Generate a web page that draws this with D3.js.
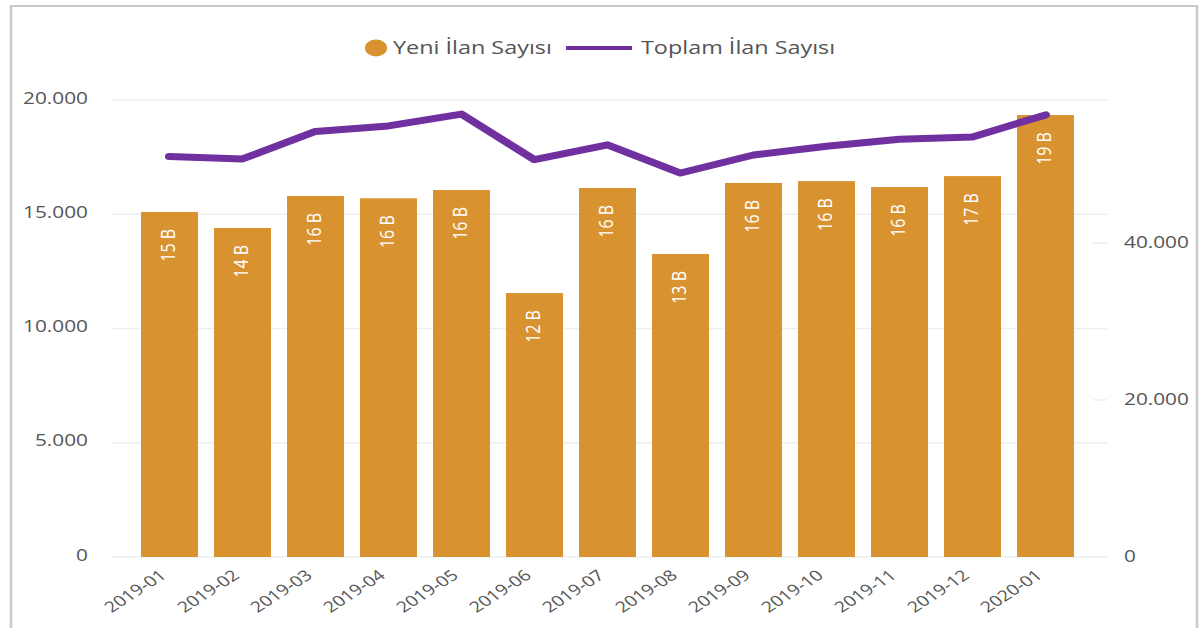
<!DOCTYPE html>
<html>
<head>
<meta charset="utf-8">
<script src="https://cdn.jsdelivr.net/npm/d3@7"></script>
<style>
  body { margin: 0; background: #fff; }
  svg { display: block; }
  text { font-family: "Open Sans", "Noto Sans", sans-serif; }
</style>
</head>
<body>
<svg id="chart"></svg>
<script>
// data
const months = ["2019-01", "2019-02", "2019-03", "2019-04", "2019-05", "2019-06", "2019-07",
  "2019-08", "2019-09", "2019-10", "2019-11", "2019-12", "2020-01"];
const newListings = [15100, 14400, 15800, 15700, 16060, 11550, 16150, 13260, 16370, 16450, 16190, 16670, 19340];
const totalListings = [51000, 50700, 54200, 54900, 56400, 50600, 52500, 48900, 51200, 52300, 53200, 53500, 56300];
const leftTicks = [0, 5000, 10000, 15000, 20000];
const rightTicks = [0, 20000, 40000];
const seriesNames = ["Yeni İlan Sayısı", "Toplam İlan Sayısı"];

const width = 1199, height = 628;
// the picture is a bit wider than tall, so draw in a narrower box and stretch
const SX = 1.3;
const sx = v => v / SX;

const barColor = "#d8922f";
const lineColor = "#7030a0";

const svg = d3.select("#chart")
  .attr("width", width)
  .attr("height", height)
  .attr("viewBox", `0 0 ${width / SX} ${height}`)
  .attr("preserveAspectRatio", "none");

const tr = d3.formatLocale({ decimal: ",", thousands: ".", grouping: [3], currency: ["", ""] });
const fmt = tr.format(",");

// frame
svg.append("rect")
  .attr("x", sx(11)).attr("y", 6)
  .attr("width", sx(1197 - 11)).attr("height", 660)
  .attr("fill", "none").attr("stroke", "#c9c9c9").attr("stroke-width", 2);

// scales
const x = d3.scaleBand()
  .domain(months)
  .range([sx(133), sx(1082)])
  .paddingInner(0.22)
  .paddingOuter(0.11);

const yL = d3.scaleLinear().domain([0, 20000]).range([557, 100]);
const yR = d3.scaleLinear().domain([0, 58200]).range([557, 100]);

// gridlines
svg.append("g")
  .selectAll("line")
  .data(leftTicks)
  .join("line")
  .attr("x1", sx(112)).attr("x2", sx(1107))
  .attr("y1", d => yL(d)).attr("y2", d => yL(d))
  .attr("stroke", "#eeeeee").attr("stroke-width", 1.5);

// left axis
svg.append("g")
  .attr("transform", `translate(${sx(88)},0)`)
  .call(d3.axisLeft(yL).tickValues(leftTicks).tickSize(0).tickPadding(0).tickFormat(fmt))
  .call(g => g.select(".domain").remove())
  .call(g => g.selectAll("text")
    .attr("fill", "#555").style("font-size", "16px").attr("dy", "0.2em"));

// right axis
svg.append("g")
  .attr("transform", `translate(${sx(1124)},0)`)
  .call(d3.axisRight(yR).tickValues(rightTicks).tickSize(0).tickPadding(0).tickFormat(fmt))
  .call(g => g.select(".domain").remove())
  .call(g => g.selectAll("text")
    .attr("fill", "#555").style("font-size", "16px").attr("dy", "0.3em"));

svg.append("g")
  .selectAll("line")
  .data(rightTicks.slice(1))
  .join("line")
  .attr("x1", sx(1093)).attr("x2", sx(1107))
  .attr("y1", d => yR(d)).attr("y2", d => yR(d))
  .attr("stroke", "#eeeeee").attr("stroke-width", 1.5);

// x axis labels
svg.append("g")
  .attr("transform", "translate(0,557)")
  .call(d3.axisBottom(x).tickSize(0))
  .call(g => g.select(".domain").remove())
  .call(g => g.selectAll("text")
    .attr("x", 0).attr("y", 0).attr("dy", 0)
    .attr("text-anchor", "end")
    .attr("transform", `translate(${sx(-2)},20) rotate(-40)`)
    .attr("fill", "#555").style("font-size", "15px"));

// bars
svg.append("g")
  .selectAll("rect")
  .data(months)
  .join("rect")
  .attr("x", d => x(d))
  .attr("y", (d, i) => yL(newListings[i]))
  .attr("width", x.bandwidth())
  .attr("height", (d, i) => yL(0) - yL(newListings[i]))
  .attr("fill", barColor);

// bar labels
svg.append("g")
  .selectAll("text")
  .data(months)
  .join("text")
  .attr("transform", (d, i) => `translate(${x(d) + x.bandwidth() / 2 + 4.5},${yL(newListings[i]) + 17}) rotate(-90)`)
  .attr("text-anchor", "end")
  .attr("fill", "#fff")
  .style("font-size", "16px")
  .text((d, i) => Math.round(newListings[i] / 1000) + " B");

// line
const line = d3.line()
  .x((d, i) => x(months[i]) + x.bandwidth() / 2)
  .y(d => yR(d));

svg.append("path")
  .datum(totalListings)
  .attr("d", line)
  .attr("fill", "none")
  .attr("stroke", lineColor)
  .attr("stroke-width", 7)
  .attr("stroke-linejoin", "round")
  .attr("stroke-linecap", "round");

// legend
const legend = svg.append("g");
legend.append("circle")
  .attr("cx", sx(376)).attr("cy", 48).attr("r", 8.5)
  .attr("fill", barColor);
legend.append("text")
  .attr("x", sx(393)).attr("y", 48).attr("dy", "0.35em")
  .attr("fill", "#555").style("font-size", "18px")
  .text(seriesNames[0]);
legend.append("line")
  .attr("x1", sx(566)).attr("x2", sx(632))
  .attr("y1", 48).attr("y2", 48)
  .attr("stroke", lineColor).attr("stroke-width", 4);
legend.append("text")
  .attr("x", sx(641)).attr("y", 48).attr("dy", "0.35em")
  .attr("fill", "#555").style("font-size", "18px")
  .text(seriesNames[1]);
</script>
</body>
</html>
